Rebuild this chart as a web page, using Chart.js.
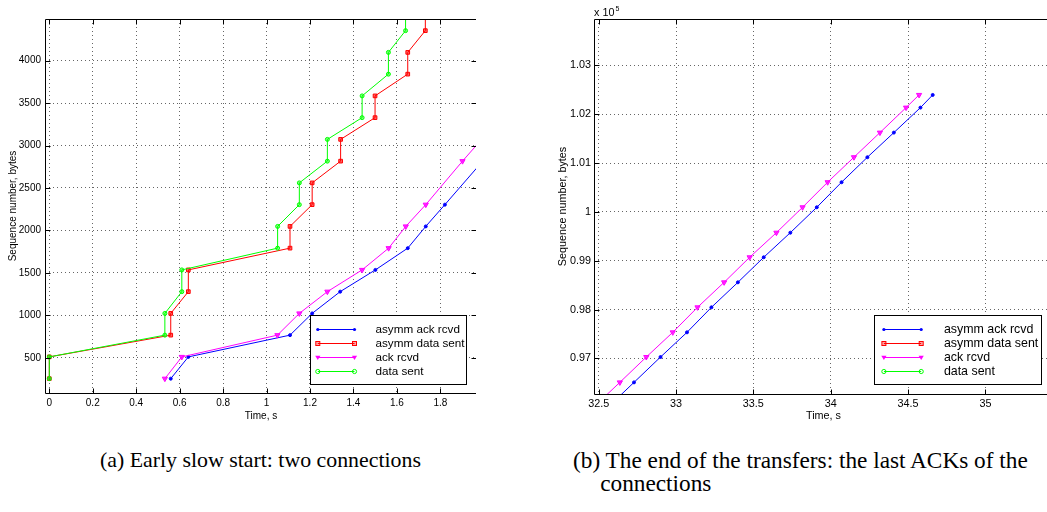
<!DOCTYPE html>
<html><head><meta charset="utf-8">
<script src="https://cdn.jsdelivr.net/npm/chart.js@4.4.0/dist/chart.umd.min.js"></script>
<style>
html,body{margin:0;padding:0;background:#fff;overflow:hidden;width:1047px;height:512px;position:relative;}
.clip{position:absolute;top:0;overflow:hidden;height:440px;}
#wa{left:0;width:476px;}
#wb{left:540px;width:507px;}
.cap{position:absolute;font-family:"Liberation Serif","Times New Roman",serif;color:#000;white-space:nowrap;line-height:1;font-size:20px;}
</style></head><body>
<div id="wa" class="clip"><canvas id="ca" width="481" height="430"></canvas></div>
<div id="wb" class="clip"><canvas id="cb" width="517" height="430"></canvas></div>
<span id="capA" class="cap">(a) Early slow start: two connections</span>
<span id="capB1" class="cap">(b) The end of the transfers: the last ACKs of the</span>
<span id="capB2" class="cap">connections</span>
<script>
// ---------- data ----------
const seriesNames = ['asymm ack rcvd', 'asymm data sent', 'ack rcvd', 'data sent'];
const seriesColors = ['#0000ff', '#ff0000', '#ff00ff', '#00ff00'];

// (a) early slow start
const aAsymmAckT   = [0.559, 0.64, 1.108, 1.21, 1.339, 1.501, 1.65, 1.733, 1.821, 1.995];
const aAsymmAckSeq = [256, 512, 768, 1024, 1280, 1536, 1792, 2048, 2304, 2816];
const aAsymmDataT   = [0, 0, 0.559, 0.559, 0.64, 0.64, 1.108, 1.108, 1.21, 1.21, 1.341, 1.341, 1.4995, 1.4995, 1.65, 1.65, 1.731, 1.731];
const aAsymmDataSeq = [256, 512, 768, 1024, 1280, 1536, 1792, 2048, 2304, 2560, 2816, 3072, 3328, 3584, 3840, 4096, 4352, 4608];
const aAckT   = [0.532, 0.61, 1.05, 1.151, 1.28, 1.44, 1.562, 1.641, 1.733, 1.902, 1.99];
const aAckSeq = [256, 512, 768, 1024, 1280, 1536, 1792, 2048, 2304, 2816, 3072];
const aDataT   = [0, 0, 0.532, 0.532, 0.61, 0.61, 1.051, 1.051, 1.151, 1.151, 1.28, 1.28, 1.44, 1.44, 1.561, 1.561, 1.64, 1.64];
const aDataSeq = [256, 512, 768, 1024, 1280, 1536, 1792, 2048, 2304, 2560, 2816, 3072, 3328, 3584, 3840, 4096, 4352, 4608];
const aXTicks = [0, 0.2, 0.4, 0.6, 0.8, 1, 1.2, 1.4, 1.6, 1.8];
const aXTickLabels = ['0', '0.2', '0.4', '0.6', '0.8', '1', '1.2', '1.4', '1.6', '1.8'];
const aYTicks = [500, 1000, 1500, 2000, 2500, 3000, 3500, 4000];
const aYTickLabels = ['500', '1000', '1500', '2000', '2500', '3000', '3500', '4000'];

// (b) end of the transfers
const bAsymmAckT   = [32.559, 32.7285, 32.900, 33.071, 33.229, 33.400, 33.567, 33.739, 33.910, 34.070, 34.237, 34.408, 34.580, 34.659];
const bAsymmAckSeq = [95996, 96508, 97027, 97533, 98045, 98557, 99070, 99574, 100094, 100607, 101119, 101623, 102135, 102395];
const bAckT   = [32.466, 32.637, 32.808, 32.979, 33.139, 33.311, 33.476, 33.649, 33.818, 33.980, 34.150, 34.318, 34.487, 34.571];
const bAckSeq = [95996, 96508, 97027, 97533, 98045, 98557, 99070, 99574, 100094, 100607, 101119, 101623, 102135, 102395];
const bXTicks = [32.5, 33, 33.5, 34, 34.5, 35];
const bXTickLabels = ['32.5', '33', '33.5', '34', '34.5', '35'];
const bYTicks = [97000, 98000, 99000, 100000, 101000, 102000, 103000];
const bYTickLabels = ['0.97', '0.98', '0.99', '1', '1.01', '1.02', '1.03'];

// ---------- helpers ----------
const FONT = '"Liberation Sans", Arial, Helvetica, sans-serif';
const pts = (xs, ys) => xs.map((x, i) => ({x: x, y: ys[i]}));
const markerStyles = [
  {pointStyle: 'circle', radius: 1.5, bg: '#0000ff'},
  {pointStyle: 'rect', radius: 2.6, bg: 'rgba(255,0,0,0.6)'},
  {pointStyle: 'triangle', radius: 3.0, bg: 'rgba(255,0,255,0.8)', rotation: 180},
  {pointStyle: 'circle', radius: 2.0, bg: 'rgba(0,255,0,0.5)'}
];
const drawOrder = [3, 2, 1, 0];

function makeDataset(i, data) {
  const m = markerStyles[i];
  return {
    label: seriesNames[i], data: data,
    borderColor: seriesColors[i], backgroundColor: m.bg,
    borderWidth: 1, pointStyle: m.pointStyle, pointRadius: m.radius,
    pointRotation: m.rotation || 0, pointBorderColor: seriesColors[i],
    pointBackgroundColor: m.bg, pointBorderWidth: 1, pointHoverRadius: m.radius,
    tension: 0, fill: false, order: drawOrder[i]
  };
}

function legendMark(ctx, i, x, y) {
  const c = seriesColors[i];
  ctx.save(); ctx.strokeStyle = c; ctx.fillStyle = c; ctx.lineWidth = 1;
  if (i === 0) { ctx.beginPath(); ctx.arc(x, y, 1.6, 0, Math.PI * 2); ctx.fill(); }
  else if (i === 1) { ctx.fillStyle = 'rgba(255,0,0,0.35)'; ctx.fillRect(x - 2, y - 2, 4, 4); ctx.strokeRect(x - 2, y - 2, 4, 4); }
  else if (i === 2) { ctx.beginPath(); ctx.moveTo(x - 2.6, y - 1.8); ctx.lineTo(x + 2.6, y - 1.8); ctx.lineTo(x, y + 2.6); ctx.closePath(); ctx.fill(); }
  else { ctx.beginPath(); ctx.arc(x, y, 2.1, 0, Math.PI * 2); ctx.stroke(); }
  ctx.restore();
}

function framePlugin(cfg) {
  return {
    id: 'frame' + cfg.key,
    afterDatasetsDraw(chart) {
      const ctx = chart.ctx, a = chart.chartArea, sx = chart.scales.x, sy = chart.scales.y;
      const L = Math.round(a.left) + 0.5, R = Math.round(a.right) - 0.5, T = Math.round(a.top) + 0.5, B = Math.round(a.bottom) + 0.5;
      ctx.save();
      ctx.strokeStyle = '#000'; ctx.lineWidth = 1;
      ctx.beginPath();
      ctx.moveTo(L, T); ctx.lineTo(R, T); ctx.lineTo(R, B); ctx.lineTo(L, B); ctx.closePath();
      sx.ticks.forEach(t => { const x = Math.round(sx.getPixelForValue(t.value)) + 0.5; ctx.moveTo(x, B); ctx.lineTo(x, B - 5); ctx.moveTo(x, T); ctx.lineTo(x, T + 5); });
      sy.ticks.forEach(t => { const y = Math.round(sy.getPixelForValue(t.value)) + 0.5; ctx.moveTo(L, y); ctx.lineTo(L + 5, y); ctx.moveTo(R, y); ctx.lineTo(R - 5, y); });
      ctx.stroke();
      ctx.restore();
    },
    afterDraw(chart) {
      const ctx = chart.ctx, a = chart.chartArea;
      const bx = Math.round(a.right - cfg.legRight - cfg.legW) + 0.5;
      const by = Math.round(a.bottom - cfg.legBottom - cfg.legH) + 0.5;
      ctx.save();
      ctx.fillStyle = '#fff';
      ctx.fillRect(bx, by, Math.round(cfg.legW), Math.round(cfg.legH));
      ctx.strokeStyle = '#000'; ctx.lineWidth = 1;
      ctx.strokeRect(bx, by, Math.round(cfg.legW), Math.round(cfg.legH));
      ctx.font = cfg.legFont + 'px ' + FONT;
      ctx.textBaseline = 'middle'; ctx.textAlign = 'left';
      for (let i = 0; i < 4; i++) {
        const y = by + 14 + 14 * i;
        const x1 = bx + cfg.sx1, x2 = bx + cfg.sx2;
        ctx.strokeStyle = seriesColors[i]; ctx.lineWidth = 1;
        ctx.beginPath(); ctx.moveTo(x1, y); ctx.lineTo(x2, y); ctx.stroke();
        legendMark(ctx, i, x1, y); legendMark(ctx, i, x2, y);
        ctx.fillStyle = '#000';
        ctx.fillText(seriesNames[i], bx + cfg.tx, y + 0.5);
      }
      if (cfg.expo) {
        ctx.font = cfg.tickFont + 'px ' + FONT;
        ctx.textBaseline = 'alphabetic';
        ctx.fillText('x 10', a.left, 16);
        const w = ctx.measureText('x 10').width;
        ctx.font = '7px ' + FONT;
        ctx.fillText('5', a.left + w + 1, 11);
      }
      ctx.restore();
    }
  };
}

function makeChart(canvasId, cfg) {
  return new Chart(document.getElementById(canvasId), {
    type: 'line',
    data: {datasets: cfg.datasets},
    options: {
      responsive: false, animation: false, devicePixelRatio: 1,
      layout: {padding: {top: cfg.top, right: 1, left: 0, bottom: 0}},
      plugins: {legend: {display: false}, tooltip: {enabled: false}, title: {display: false}},
      scales: {
        x: {
          type: 'linear', min: cfg.xmin, max: cfg.xmax,
          afterFit: s => { s.height = cfg.xAxisH; },
          afterBuildTicks: s => { s.ticks = cfg.xTicks.map(v => ({value: v})); },
          ticks: {autoSkip: false, maxRotation: 0, padding: 4, color: '#000',
                  font: {family: FONT, size: cfg.tickFont},
                  callback: (v, i) => cfg.xLabels[i]},
          grid: {color: 'rgba(0,0,0,0.6)', lineWidth: 1, drawTicks: false},
          border: {display: false, dash: [1, 3]},
          title: {display: true, text: 'Time, s', color: '#000', font: {family: FONT, size: cfg.tickFont}, padding: {top: 0, bottom: cfg.xTitlePad}}
        },
        y: {
          type: 'linear', min: cfg.ymin, max: cfg.ymax,
          afterFit: s => { s.width = cfg.yAxisW; },
          afterBuildTicks: s => { s.ticks = cfg.yTicks.map(v => ({value: v})); },
          ticks: {autoSkip: false, padding: cfg.yTickPad, color: '#000',
                  font: {family: FONT, size: cfg.tickFont},
                  callback: (v, i) => cfg.yLabels[i]},
          grid: {color: 'rgba(0,0,0,0.6)', lineWidth: 1, drawTicks: false},
          border: {display: false, dash: [1, 3]},
          title: {display: true, text: 'Sequence number, bytes', color: '#000', font: {family: FONT, size: cfg.tickFont}, padding: {top: cfg.yTitlePad, bottom: 0}}
        }
      }
    },
    plugins: [framePlugin(cfg)]
  });
}

makeChart('ca', {
  key: 'a',
  datasets: [
    makeDataset(0, pts(aAsymmAckT, aAsymmAckSeq)),
    makeDataset(1, pts(aAsymmDataT, aAsymmDataSeq)),
    makeDataset(2, pts(aAckT, aAckSeq)),
    makeDataset(3, pts(aDataT, aDataSeq))
  ],
  top: 19, xAxisH: 37, yAxisW: 45,
  xmin: -0.0198, xmax: 1.9688, ymin: 87, ymax: 4489,
  xTicks: aXTicks, xLabels: aXTickLabels, yTicks: aYTicks, yLabels: aYTickLabels,
  tickFont: 10, yTickPad: 4, xTitlePad: 8, yTitlePad: 7,
  legRight: 11.3, legBottom: 8.7, legW: 156, legH: 69.3, legFont: 11.7,
  sx1: 7.3, sx2: 44, tx: 65, expo: false
});

makeChart('cb', {
  key: 'b',
  datasets: [
    makeDataset(0, pts(bAsymmAckT, bAsymmAckSeq)),
    makeDataset(1, []),
    makeDataset(2, pts(bAckT, bAckSeq)),
    makeDataset(3, [])
  ],
  top: 19, xAxisH: 36, yAxisW: 54,
  xmin: 32.47, xmax: 35.4366, ymin: 96270, ymax: 103950,
  xTicks: bXTicks, xLabels: bXTickLabels, yTicks: bYTicks, yLabels: bYTickLabels,
  tickFont: 10.8, yTickPad: 3, xTitlePad: 7.5, yTitlePad: 16.5,
  legRight: 12, legBottom: 9.7, legW: 166.7, legH: 69.3, legFont: 12.4,
  sx1: 9.4, sx2: 46.7, tx: 69.4, expo: true
});

// ---------- captions ----------
function fitCaption(el, targetW) {
  const w = el.getBoundingClientRect().width;
  const fs = 20 * targetW / w;
  el.style.fontSize = fs + 'px';
  return fs;
}
const capA = document.getElementById('capA');
const capB1 = document.getElementById('capB1');
const capB2 = document.getElementById('capB2');
const fa = fitCaption(capA, 321);
const fb = fitCaption(capB1, 455);
capA.style.left = '100px'; capA.style.top = (461 - fa * 0.5) + 'px';
capB1.style.left = '573px'; capB1.style.top = (461 - fb * 0.5) + 'px';
capB2.style.fontSize = fb + 'px';
const probe = document.createElement('span');
probe.className = 'cap'; probe.style.fontSize = fb + 'px'; probe.style.visibility = 'hidden';
probe.textContent = '(b) ';
document.body.appendChild(probe);
const indent = probe.getBoundingClientRect().width;
probe.remove();
capB2.style.left = (573 + indent) + 'px'; capB2.style.top = (484 - fb * 0.5) + 'px';
</script>
</body></html>
